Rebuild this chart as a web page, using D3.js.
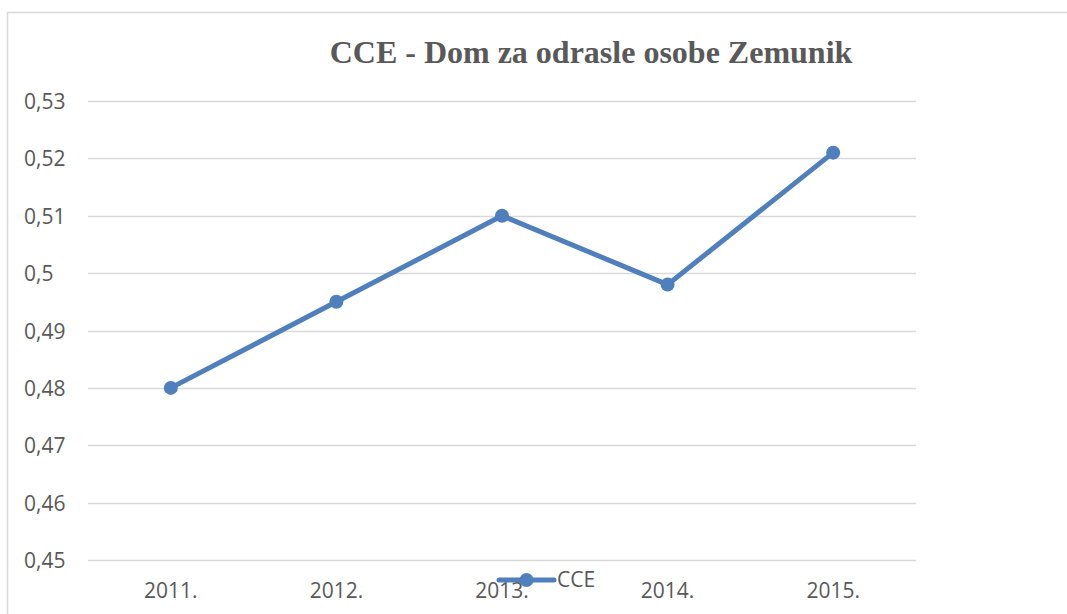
<!DOCTYPE html>
<html>
<head>
<meta charset="utf-8">
<script src="https://cdn.jsdelivr.net/npm/d3@7"></script>
<style>
  body { margin: 0; background: #fff; }
  svg text { fill: #595959; }
</style>
</head>
<body>
<svg id="myGraph" width="1067" height="614"></svg>
<script>
var years = ["2011.", "2012.", "2013.", "2014.", "2015."];
var cceValues = [0.48, 0.495, 0.51, 0.498, 0.521];
var yTicks = [0.45, 0.46, 0.47, 0.48, 0.49, 0.5, 0.51, 0.52, 0.53];
var seriesName = "CCE";
var chartTitle = "CCE - Dom za odrasle osobe Zemunik";

var svg = d3.select("#myGraph");
var lineColor = "#4f7fbd";
var labelFont = "'Open Sans', sans-serif";

// chart frame
svg.append("path")
    .attr("d", "M7.5,614 L7.5,12.5 L1067,12.5")
    .attr("fill", "none")
    .attr("stroke", "#d9d9d9")
    .attr("stroke-width", 1.5);

var xScale = d3.scaleBand()
    .domain(years)
    .range([88, 916]);

var yScale = d3.scaleLinear()
    .domain([0.45, 0.53])
    .range([560, 101]);

// grid
svg.append("g")
    .selectAll("line")
    .data(yTicks)
    .enter()
    .append("line")
    .attr("x1", 88)
    .attr("x2", 916)
    .attr("y1", d => Math.round(yScale(d)) + 0.5)
    .attr("y2", d => Math.round(yScale(d)) + 0.5)
    .attr("stroke", "#d9d9d9")
    .attr("stroke-width", 1.5);

// y labels
var fmt = d => String(+d.toFixed(2)).replace(".", ",");
svg.append("g")
    .selectAll("text")
    .data(yTicks)
    .enter()
    .append("text")
    .attr("x", 24)
    .attr("y", d => yScale(d) + 8)
    .attr("font-family", labelFont)
    .attr("font-size", 21)
    .text(fmt);

// x labels
svg.append("g")
    .selectAll("text")
    .data(years)
    .enter()
    .append("text")
    .attr("x", d => xScale(d) + xScale.bandwidth() / 2)
    .attr("y", 598)
    .attr("text-anchor", "middle")
    .attr("font-family", labelFont)
    .attr("font-size", 21)
    .text(d => d);

// title
svg.append("text")
    .attr("x", 591)
    .attr("y", 63)
    .attr("text-anchor", "middle")
    .attr("font-family", "'Liberation Serif', serif")
    .attr("font-weight", "bold")
    .attr("font-size", 32)
    .text(chartTitle);

// series line
var line = d3.line()
    .x((d, i) => xScale(years[i]) + xScale.bandwidth() / 2)
    .y(d => yScale(d));

svg.append("path")
    .datum(cceValues)
    .attr("d", line)
    .attr("fill", "none")
    .attr("stroke", lineColor)
    .attr("stroke-width", 5)
    .attr("stroke-linejoin", "round");

svg.append("g")
    .selectAll("circle")
    .data(cceValues)
    .enter()
    .append("circle")
    .attr("cx", (d, i) => xScale(years[i]) + xScale.bandwidth() / 2)
    .attr("cy", d => yScale(d))
    .attr("r", 7)
    .attr("fill", lineColor);

// legend
var legend = svg.append("g").attr("transform", "translate(499,580)");
legend.append("line")
    .attr("x1", 0).attr("x2", 55)
    .attr("y1", 0).attr("y2", 0)
    .attr("stroke", lineColor)
    .attr("stroke-width", 5)
    .attr("stroke-linecap", "round");
legend.append("circle")
    .attr("cx", 27.5).attr("cy", 0)
    .attr("r", 7)
    .attr("fill", lineColor);
legend.append("text")
    .attr("x", 58)
    .attr("y", 7)
    .attr("font-family", labelFont)
    .attr("font-size", 21)
    .text(seriesName);
</script>
</body>
</html>
